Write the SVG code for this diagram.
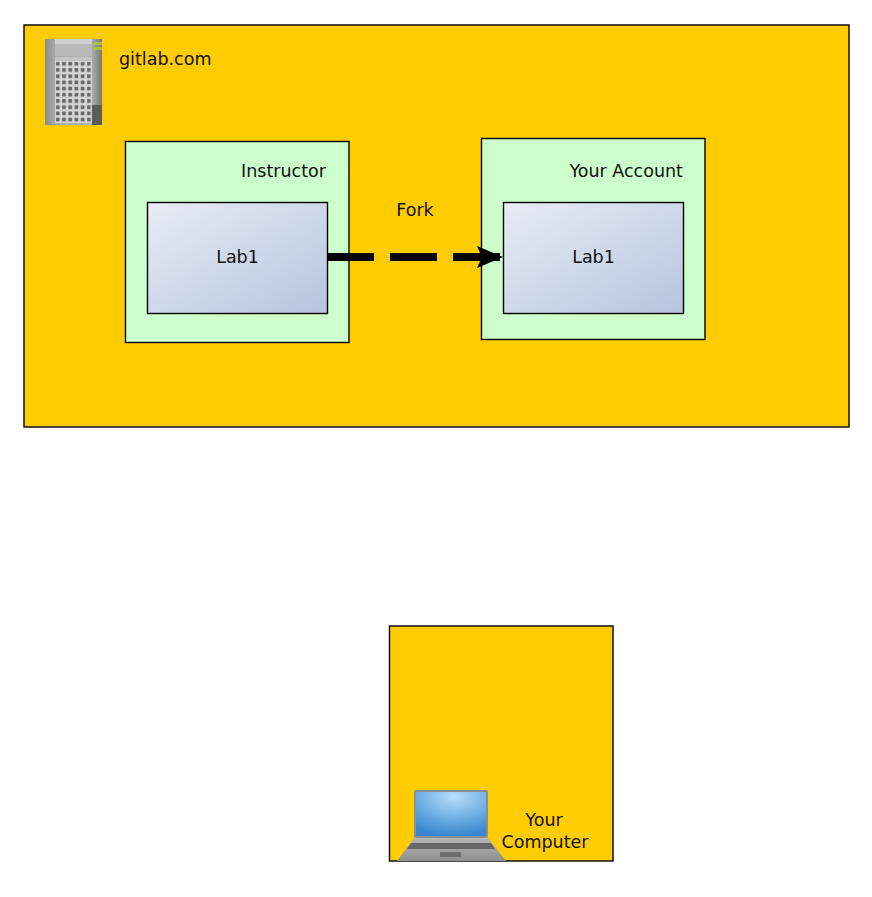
<svg xmlns="http://www.w3.org/2000/svg" width="872" height="897" viewBox="0 0 872 897">
<style>
text{font-family:"DejaVu Sans","Liberation Sans",sans-serif;font-size:17.5px;fill:#111}
.box{stroke:#000;stroke-width:1.4}
.org{fill:#ffcc00}
.acc{fill:#ccffcc}
.repo{fill:url(#repoGrad)}
.m{text-anchor:middle}
</style>
<defs>
<linearGradient id="repoGrad" x1="0" y1="0" x2="1" y2="1">
<stop offset="0" stop-color="#e8ecf5"/><stop offset="1" stop-color="#b5c5de"/>
</linearGradient>
<linearGradient id="tower" x1="0" y1="0" x2="1" y2="0">
<stop offset="0" stop-color="#8e8e8e"/><stop offset=".18" stop-color="#a8a8a8"/><stop offset=".8" stop-color="#b4b4b4"/><stop offset="1" stop-color="#777"/>
</linearGradient>
<pattern id="grid" x="55" y="61" width="6.2" height="6.2" patternUnits="userSpaceOnUse">
<rect width="6.2" height="6.2" fill="#d4d4d4"/><rect x="1" y="1" width="3.6" height="3.6" fill="#666"/>
</pattern>
<radialGradient id="screen" cx=".55" cy=".1" r=".9">
<stop offset="0" stop-color="#b8defa"/><stop offset=".55" stop-color="#6fb0e4"/><stop offset="1" stop-color="#3a86cc"/>
</radialGradient>
<linearGradient id="deck" x1="0" y1="0" x2="0" y2="1">
<stop offset="0" stop-color="#b5b5b5"/><stop offset="1" stop-color="#8f8f8f"/>
</linearGradient>
<marker id="arrow" markerUnits="userSpaceOnUse" markerWidth="28" markerHeight="26" refX="26" refY="13" orient="auto">
<path d="M0 2 L26 13 L0 24 L5 13 Z" fill="#000"/>
</marker>
</defs>

<g id="gitlab">
<rect class="box org" x="24" y="25" width="825" height="402"/>
<g id="server-icon">
<rect x="45" y="39" width="57" height="86" fill="url(#tower)"/>
<rect x="55" y="39" width="37" height="17" fill="#b9b9b9"/>
<rect x="55" y="39" width="37" height="5" fill="#d0d0d0"/>
<rect x="55" y="57" width="37" height="8" fill="#c4c4c4"/>
<rect x="55" y="61" width="37" height="62" fill="url(#grid)"/>
<rect x="94" y="42" width="8" height="3" fill="#a8c040"/>
<rect x="94" y="47" width="8" height="3" fill="#a8c040"/>
<rect x="92" y="105" width="10" height="20" fill="#5c5c5c"/>
</g>
<text x="119" y="65">gitlab.com</text>
</g>

<g id="instructor">
<rect class="box acc" x="125.500" y="141.500" width="223.500" height="201"/>
<text x="326" y="177" text-anchor="end">Instructor</text>
</g>
<g id="instructor-lab1">
<rect class="box repo" x="147.500" y="202.500" width="180" height="111"/>
<text class="m" x="237.500" y="263">Lab1</text>
</g>

<g id="account">
<rect class="box acc" x="481.500" y="138.500" width="223.500" height="201"/>
<text x="683" y="177" text-anchor="end">Your Account</text>
</g>
<g id="account-lab1">
<rect class="box repo" x="503.500" y="202.500" width="180" height="111"/>
<text class="m" x="593.500" y="263">Lab1</text>
</g>

<g id="connectors">
<path d="M327 257 H503" fill="none" stroke="#000" stroke-width="8" stroke-dasharray="47 16" marker-end="url(#arrow)"/>
<text class="m" x="415" y="216">Fork</text>
</g>

<g id="computer">
<rect class="box org" x="389.500" y="626" width="223.500" height="235"/>
<g id="laptop-icon">
<rect x="414" y="790" width="74" height="48" rx="2" fill="#8a8f94"/>
<rect x="416" y="792" width="70" height="44" fill="url(#screen)"/>
<path d="M414 838 H488 L506 861 H397 Z" fill="url(#deck)"/>
<path d="M411 843 H491 L495 849 H407 Z" fill="#666"/>
<rect x="440" y="852" width="21" height="5" fill="#6e6e6e"/>
</g>
<text class="m" x="544" y="826">Your</text>
<text class="m" x="545" y="848">Computer</text>
</g>
</svg>
